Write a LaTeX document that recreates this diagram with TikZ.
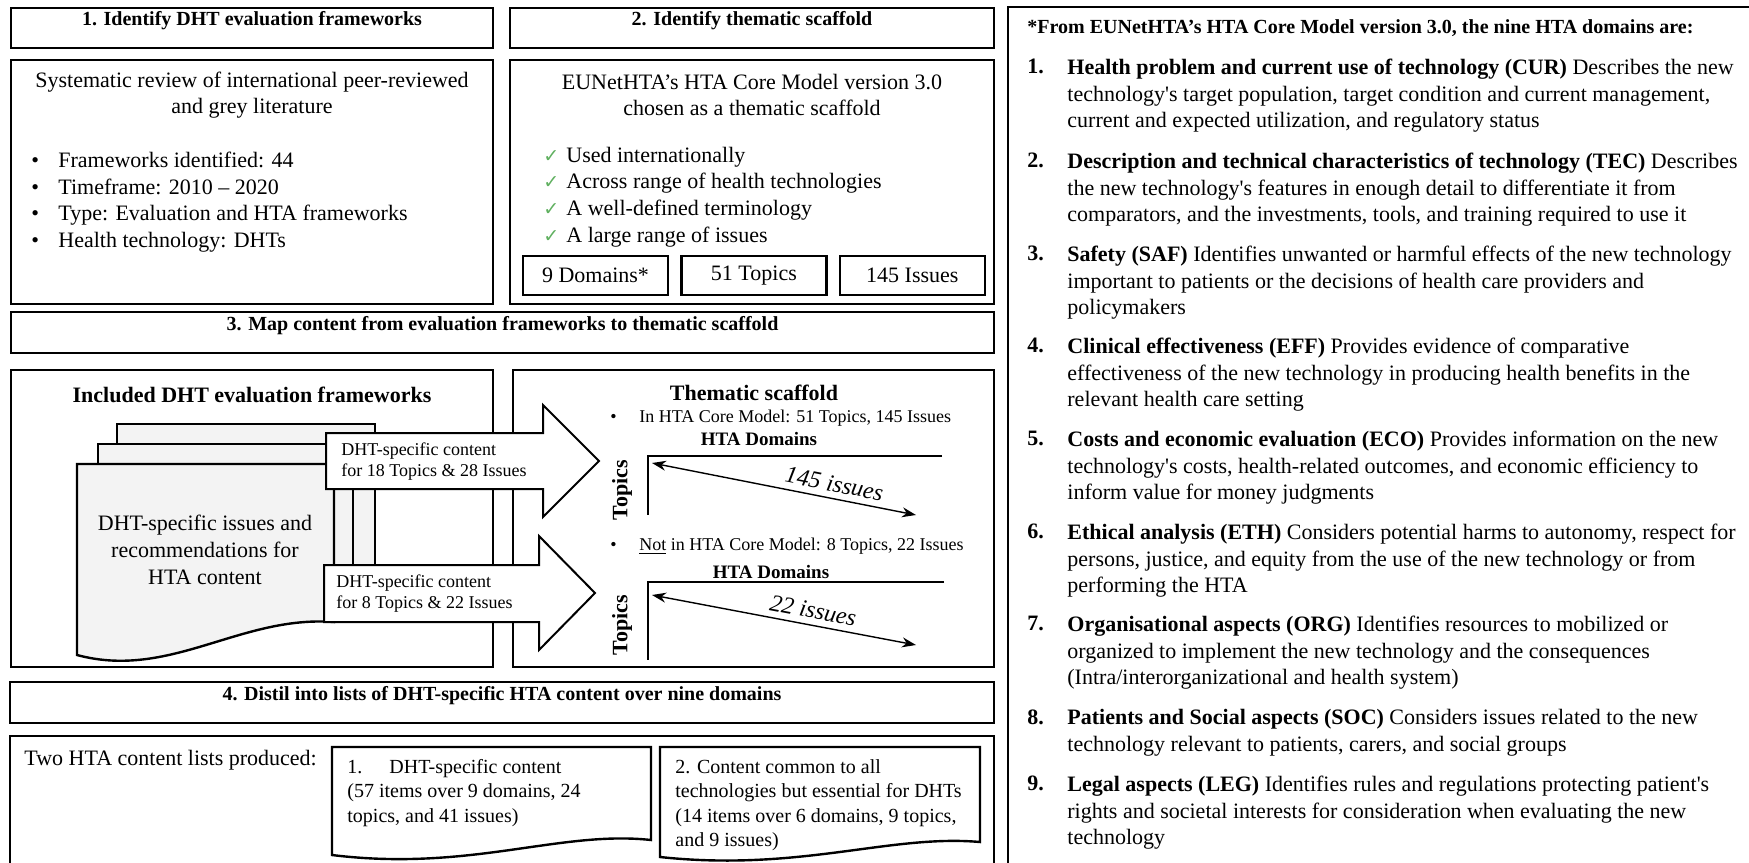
\documentclass[tikz,border=0pt]{standalone}
\usepackage{fontspec}
\setmainfont{Liberation Serif}
\newfontfamily\symbfont{DejaVu Sans}
\usetikzlibrary{arrows.meta,positioning,fit,calc}
\definecolor{tickgreen}{RGB}{96,176,96}
\definecolor{sheetgrey}{RGB}{243,243,243}
\newcommand{\listbullet}{\makebox[13.5pt][l]{\textbullet}}
\newcommand{\listtick}{\makebox[11.5pt][l]{\symbfont\fontsize{9.5}{9.5}\selectfont\color{tickgreen}✓}}
\newcommand{\sq}{\textquotesingle}
\tikzset{
    stagebox/.style={draw, line width=1.4pt, inner sep=0pt,
        font=\fontsize{10}{12}\selectfont\bfseries},
    panelbox/.style={draw, line width=1.4pt, inner sep=0pt},
    countbox/.style={draw, line width=1.2pt, inner sep=0pt,
        minimum width=72.5pt, minimum height=19.5pt, font=\fontsize{11}{13}\selectfont},
    bodytext/.style={inner sep=0pt, align=left, font=\fontsize{11}{13.35}\selectfont},
    paneltitle/.style={inner sep=0pt, font=\fontsize{11}{13}\selectfont\bfseries},
    sheet/.style={draw, line width=1.2pt, fill=sheetgrey},
    listsheet/.style={draw, line width=1.2pt, fill=white},
    blockarrow/.style={draw, line width=1pt, fill=white, line join=miter},
    arrowtext/.style={inner sep=0pt, align=left, font=\fontsize{9}{10.5}\selectfont},
    smalltext/.style={inner sep=0pt, font=\fontsize{9}{11}\selectfont},
    axislabel/.style={inner sep=0pt, font=\fontsize{9.5}{11}\selectfont\bfseries},
    toplabel/.style={inner sep=0pt, rotate=90, font=\fontsize{11}{13}\selectfont\bfseries},
    axisline/.style={line width=0.9pt},
    issuearrow/.style={{Stealth[length=7pt,width=5pt]}-{Stealth[length=7pt,width=5pt]}, line width=0.7pt},
    issuelabel/.style={inner sep=0pt, font=\fontsize{12}{14}\selectfont\itshape},
    bottomtext/.style={inner sep=0pt, align=left, font=\fontsize{10}{12.25}\selectfont},
    headtext/.style={inner sep=0pt, font=\fontsize{10}{12}\selectfont\bfseries},
    itemnum/.style={inner sep=0pt, anchor=north west, font=\fontsize{11}{13.25}\selectfont\bfseries},
    itemtext/.style={inner sep=0pt, anchor=north west, align=left, font=\fontsize{11}{13.25}\selectfont}
}
\begin{document}
\begin{tikzpicture}[x=0.5pt, y=-0.5pt]
\useasboundingbox (0,0) rectangle (1749,862);
\clip (0,0) rectangle (1749,862);

% stage titles
\node[stagebox, fit={(11,8) (493,48)}] (stage1) {1. Identify DHT evaluation frameworks};
\node[stagebox, fit={(510,8) (994,48)}] (stage2) {2. Identify thematic scaffold};
\node[stagebox, fit={(11,312) (994,353)}] (stage3) {3. Map content from evaluation frameworks to thematic scaffold};
\node[stagebox, fit={(10,682) (994,723)}] (stage4) {4. Distil into lists of DHT-specific HTA content over nine domains};

% panels
\node[panelbox, fit={(11,60) (493,304)}] (frame1) {};
\node[panelbox, fit={(510,60) (994,304)}] (frame2) {};
\node[panelbox, fit={(11,370) (493,667)}] (frame3a) {};
\node[panelbox, fit={(513,370) (994,667)}] (frame3b) {};
\node[panelbox, fit={(10,736) (994,880)}] (frame4) {};
\node[panelbox, fit={(1008,7) (1760,880)}] (domains) {};

% step 1
\node[bodytext, align=center] (review) at (252,95) {Systematic review of international peer-reviewed\\and grey literature};
\node[bodytext, anchor=west] (facts) at (31,202) {\listbullet Frameworks identified: 44\\\listbullet Timeframe: 2010 -- 2020\\\listbullet Type: Evaluation and HTA  frameworks\\\listbullet Health technology: DHTs};

% step 2
\node[bodytext, align=center] (coremodel) at (752,95) {EUNetHTA’s HTA  Core Model version 3.0\\chosen as a thematic scaffold};
\node[bodytext, anchor=west] (reasons) at (543,197) {\listtick Used internationally\\\listtick Across range of health technologies\\\listtick A well-defined terminology\\\listtick A large range of issues};
\node[countbox] (ndomains) at (595.5,275.5) {9 Domains*};
\node[countbox, right=5.5pt of ndomains] (ntopics) {51 Topics};
\node[countbox, right=5.5pt of ntopics] (nissues) {145 Issues};

% step 3, frameworks
\node[paneltitle] (inctitle) at (252,395) {Included DHT evaluation frameworks};
\draw[sheet] (117,424) rectangle (375,612);
\draw[sheet] (98,444) rectangle (353,615);
\draw[sheet] (77,464) -- (334,464) -- (334,622) .. controls (240,615) and (170,680) .. (77,655) -- cycle;
\node[bodytext, align=center] (dhtdoc) at (205,550) {DHT-specific issues and\\recommendations for\\HTA  content};

\draw[blockarrow] (326,433) -- (543,433) -- (543,405) -- (599,461) -- (543,517) -- (543,489) -- (326,489) -- cycle;
\node[arrowtext, anchor=west] (upcontent) at (341,462) {DHT-specific content\\for 18 Topics \& 28 Issues};
\draw[blockarrow] (324,565) -- (539,565) -- (539,536) -- (595,593) -- (539,650) -- (539,622) -- (324,622) -- cycle;
\node[arrowtext, anchor=west] (lowcontent) at (336,594) {DHT-specific content\\for 8 Topics \& 22 Issues};

% step 3, scaffold
\node[paneltitle] (scaffold) at (754,393) {Thematic scaffold};
\node[smalltext, anchor=west] (incore) at (610,418) {\makebox[14.5pt][l]{\textbullet}In HTA Core Model:  51 Topics, 145 Issues};
\node[axislabel] (domaxis1) at (759,439) {HTA  Domains};
\coordinate (ax1end) at (942,456);
\coordinate (ax1org) at (648,456);
\coordinate (ax1foot) at (648,515);
\draw[axisline] (ax1end) -- (ax1org) -- (ax1foot);
\node[toplabel] (topaxis1) at (622,490) {Topics};
\coordinate (iss1a) at (652,463);
\coordinate (iss1b) at (916,515);
\draw[issuearrow] (iss1a) -- node[issuelabel, pos=0.68, above=3pt, sloped] (iss1lab) {145 issues} (iss1b);

\node[smalltext, anchor=west] (notcore) at (610,546) {\makebox[14.5pt][l]{\textbullet}\underline{Not} in HTA Core Model: 8 Topics, 22 Issues};
\node[axislabel] (domaxis2) at (771,572) {HTA  Domains};
\coordinate (ax2end) at (944,582);
\coordinate (ax2org) at (648,582);
\coordinate (ax2foot) at (648,660);
\draw[axisline] (ax2end) -- (ax2org) -- (ax2foot);
\node[toplabel] (topaxis2) at (622,625) {Topics};
\coordinate (iss2a) at (652,595);
\coordinate (iss2b) at (916,645);
\draw[issuearrow] (iss2a) -- node[issuelabel, pos=0.6, above=3pt, sloped] (iss2lab) {22 issues} (iss2b);

% step 4
\node[bottomtext, anchor=west, font=\fontsize{11}{13}\selectfont] (lists) at (24,760) {Two HTA  content lists produced:};
\draw[listsheet] (332,747) -- (651,747) -- (651,840) .. controls (560,830) and (470,872) .. (332,855) -- cycle;
\node[bottomtext, anchor=north west] (list1) at (347,759) {\makebox[21pt][l]{1.}DHT-specific content\\(57 items over 9 domains, 24\\topics, and 41 issues)};
\draw[listsheet] (660,747) -- (980,747) -- (980,842) .. controls (890,834) and (800,872) .. (660,857) -- cycle;
\node[bottomtext, anchor=north west] (list2) at (675,759) {2. Content common to all\\technologies  but essential for DHTs\\(14 items over 6 domains, 9 topics,\\and 9 issues)};

% domains
\node[headtext, anchor=west] (domhead) at (1027,28) {*From EUNetHTA’s HTA Core Model version 3.0, the nine HTA domains are:};
\node[itemnum] (num1) at (1027,59) {1.};
\node[itemtext] (dom1) at (1067,59) {\textbf{Health problem and current use of technology (CUR)} Describes the new\\technology\sq s target population, target condition and current management,\\current and expected utilization, and regulatory status};
\node[itemnum] (num2) at (1027,153) {2.};
\node[itemtext] (dom2) at (1067,153) {\textbf{Description and technical characteristics of technology (TEC)} Describes\\the new technology\sq s features in enough detail to differentiate it from\\comparators, and the investments, tools, and training required to use it};
\node[itemnum] (num3) at (1027,246) {3.};
\node[itemtext] (dom3) at (1067,246) {\textbf{Safety (SAF)} Identifies unwanted or harmful effects of the new technology\\important to patients or the decisions of health care providers and\\policymakers};
\node[itemnum] (num4) at (1027,338) {4.};
\node[itemtext] (dom4) at (1067,338) {\textbf{Clinical effectiveness (EFF)} Provides evidence of comparative\\effectiveness of the new technology in producing health benefits in the\\relevant health care setting};
\node[itemnum] (num5) at (1027,431) {5.};
\node[itemtext] (dom5) at (1067,431) {\textbf{Costs and economic evaluation (ECO)} Provides information on the new\\technology\sq s costs, health-related outcomes, and economic efficiency to\\inform value  for money judgments};
\node[itemnum] (num6) at (1027,524) {6.};
\node[itemtext] (dom6) at (1067,524) {\textbf{Ethical analysis (ETH)} Considers potential harms to autonomy, respect for\\persons, justice, and equity from the use of the new technology or from\\performing the HTA};
\node[itemnum] (num7) at (1027,616) {7.};
\node[itemtext] (dom7) at (1067,616) {\textbf{Organisational aspects (ORG)} Identifies resources to mobilized or\\organized to implement the new technology and the consequences\\(Intra/interorganizational and health system)};
\node[itemnum] (num8) at (1027,709) {8.};
\node[itemtext] (dom8) at (1067,709) {\textbf{Patients and Social aspects (SOC)} Considers issues related to the new\\technology relevant to patients, carers, and social groups};
\node[itemnum] (num9) at (1027,776) {9.};
\node[itemtext] (dom9) at (1067,776) {\textbf{Legal aspects (LEG)} Identifies rules and regulations protecting patient\sq s\\rights and societal interests for consideration when evaluating the new\\technology};
\end{tikzpicture}
\end{document}
